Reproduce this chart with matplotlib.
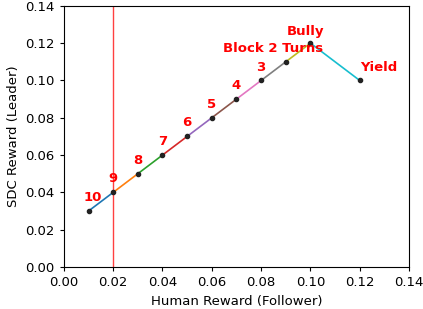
import matplotlib
matplotlib.use("Agg")
import matplotlib.pyplot as plt

# 데이터: 인간(추종자) 보상 vs SDC(리더) 보상
human_reward = [0.01, 0.02, 0.03, 0.04, 0.05, 0.06, 0.07, 0.08, 0.09, 0.10, 0.12]
sdc_reward = [0.03, 0.04, 0.05, 0.06, 0.07, 0.08, 0.09, 0.10, 0.11, 0.12, 0.10]
point_labels = ["10", "9", "8", "7", "6", "5", "4", "3", "Block 2 Turns", "Bully", "Yield"]
label_offsets = [(3, 5), (0, 5), (0, 5), (0, 5), (0, 5), (0, 5), (0, 5), (0, 5),
                 (-9, 5), (-3.5, 4), (14, 5)]
threshold_x = 0.02

plt.rcParams["font.size"] = 9.5

fig = plt.figure(figsize=(4.23, 3.09), dpi=100)
ax = fig.add_axes([0.151, 0.136, 0.816, 0.845])

# 구간별로 기본 색 순환을 따라 선을 그린다
for i in range(len(human_reward) - 1):
    ax.plot(human_reward[i:i + 2], sdc_reward[i:i + 2], lw=1.2)

ax.scatter(human_reward, sdc_reward, s=9, color="#222222", zorder=3)

for x, y, lab, off in zip(human_reward, sdc_reward, point_labels, label_offsets):
    ax.annotate(lab, (x, y), xytext=off, textcoords="offset points",
                ha="center", va="bottom", color="red", fontweight="bold", fontsize=9.5)

ax.axvline(threshold_x, color="red", lw=1, alpha=0.75)

ax.set_xlim(0, 0.14)
ax.set_ylim(0, 0.14)
ax.set_xticks([0, 0.02, 0.04, 0.06, 0.08, 0.10, 0.12, 0.14])
ax.set_yticks([0, 0.02, 0.04, 0.06, 0.08, 0.10, 0.12, 0.14])
ax.xaxis.set_major_formatter(plt.FormatStrFormatter("%.2f"))
ax.yaxis.set_major_formatter(plt.FormatStrFormatter("%.2f"))
ax.tick_params(length=3)
ax.set_xlabel("Human Reward (Follower)")
ax.set_ylabel("SDC Reward (Leader)")

fig.savefig("out.png", dpi=100)
